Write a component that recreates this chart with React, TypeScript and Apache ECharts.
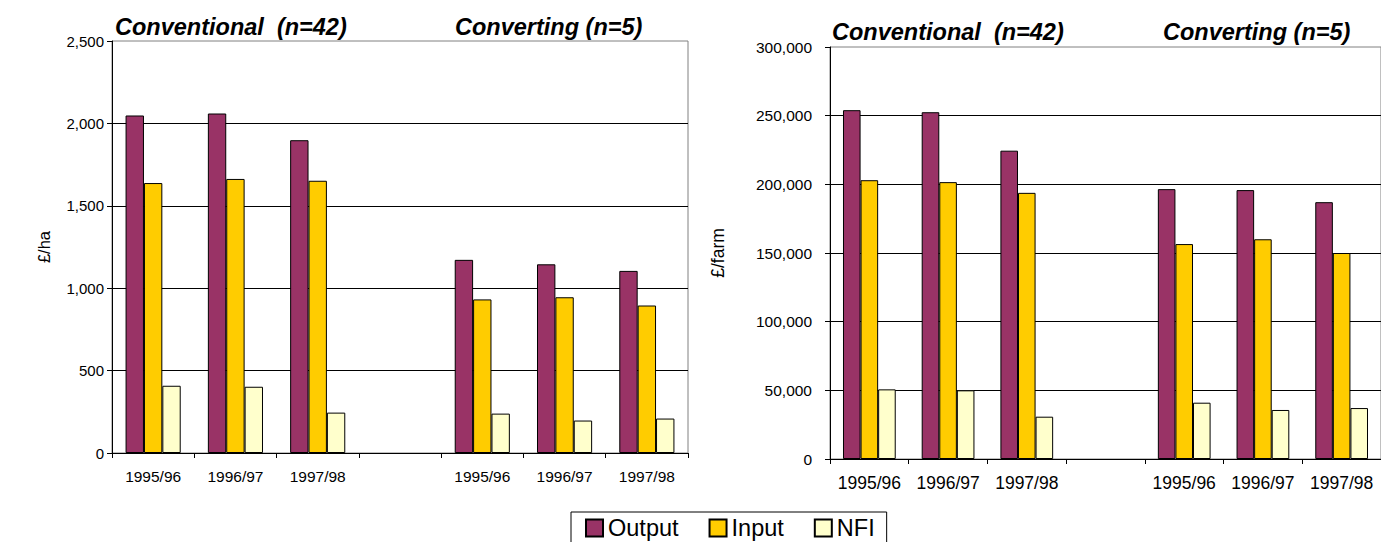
import React, { useEffect, useRef } from "react";
import * as echarts from "echarts";

const categories = ["1995/96", "1996/97", "1997/98", "", "1995/96", "1996/97", "1997/98"];
const seriesNames = ["Output", "Input", "NFI"];

// £/ha (left chart)
const haOutput = [2048, 2060, 1898, null, 1172, 1145, 1105];
const haInput = [1638, 1663, 1652, null, 932, 945, 895];
const haNFI = [408, 402, 245, null, 239, 197, 209];

// £/farm (right chart)
const farmOutput = [254000, 252500, 224500, null, 196500, 195800, 187000];
const farmInput = [203000, 201600, 193800, null, 156500, 160000, 150000];
const farmNFI = [50700, 50000, 30800, null, 41000, 35700, 37100];

const haTicks = { min: 0, max: 2500, interval: 500 };
const farmTicks = { min: 0, max: 300000, interval: 50000 };

const colors = ["#993366", "#FFCC00", "#FFFFCC"];
const groupTitles = ["Conventional  (n=42)", "Converting (n=5)"];

const FONT = "'Liberation Sans', Arial, sans-serif";

export default function App() {
  const ref = useRef<HTMLDivElement>(null);
  useEffect(() => {
    if (!ref.current) return;
    const chart = echarts.init(ref.current, undefined, { renderer: "svg" });
    const fmt = (v: number) => v.toLocaleString("en-US");
    const mkY = (gridIndex: number, t: any, name: string, nameGap: number, nameSize: number, labelSize: number) => ({
      type: "value",
      gridIndex,
      min: t.min,
      max: t.max,
      interval: t.interval,
      name,
      nameLocation: "middle",
      nameGap,
      nameTextStyle: { fontFamily: FONT, fontSize: nameSize, color: "#000" },
      axisLine: { show: true, lineStyle: { color: "#000", width: 1 } },
      axisTick: { show: true, length: 5, lineStyle: { color: "#000" } },
      axisLabel: { fontFamily: FONT, fontSize: labelSize, color: "#000", margin: gridIndex === 0 ? 8 : 18, formatter: fmt },
      splitLine: { show: true, showMaxLine: false, lineStyle: { color: "#000", width: 1 } },
    });
    const mkX = (gridIndex: number, size: number) => ({
      type: "category",
      gridIndex,
      data: categories,
      axisLine: { show: true, lineStyle: { color: "#000", width: 1 } },
      axisTick: { show: true, length: 5, interval: 0, lineStyle: { color: "#000" } },
      axisLabel: { fontFamily: FONT, fontSize: size, color: "#000", margin: 15, interval: 0 },
      splitLine: { show: false },
    });
    const sets = [
      [haOutput, haInput, haNFI],
      [farmOutput, farmInput, farmNFI],
    ];
    const series: any[] = [];
    sets.forEach((arrs, gi) => {
      arrs.forEach((data, si) => {
        series.push({
          type: "bar",
          name: seriesNames[si],
          xAxisIndex: gi,
          yAxisIndex: gi,
          data,
          barGap: "0%",
          barCategoryGap: "33%",
          itemStyle: { color: colors[si], borderColor: "#000", borderWidth: 1 },
        });
      });
    });
    const titleStyle = { fontFamily: FONT, fontSize: 23.5, fontWeight: "bold", fontStyle: "italic", fill: "#000" };
    chart.setOption({
      animation: false,
      backgroundColor: "#fff",
      grid: [
        { left: 112, top: 41, width: 576, height: 412, show: true, borderColor: "#808080", borderWidth: 1, backgroundColor: "transparent" },
        { left: 830, top: 47, width: 556, height: 412, show: true, borderColor: "#808080", borderWidth: 1, backgroundColor: "transparent" },
      ],
      xAxis: [mkX(0, 15.5), mkX(1, 17.5)],
      yAxis: [mkY(0, haTicks, "£/ha", 60, 16.5, 15), mkY(1, farmTicks, "£/farm", 103, 17.5, 15.5)],
      legend: {
        data: seriesNames,
        left: 571,
        top: 512,
        padding: [4, 12, 12, 14],
        itemWidth: 17,
        itemHeight: 17,
        itemGap: 30,
        icon: "rect",
        borderColor: "#000",
        borderWidth: 1,
        backgroundColor: "#fff",
        textStyle: { fontFamily: FONT, fontSize: 23.5, color: "#000" },
      },
      graphic: [
        { type: "text", left: 115, top: 15, style: { text: groupTitles[0], ...titleStyle } },
        { type: "text", left: 455, top: 15, style: { text: groupTitles[1], ...titleStyle } },
        { type: "text", left: 832, top: 20, style: { text: groupTitles[0], ...titleStyle } },
        { type: "text", left: 1163, top: 20, style: { text: groupTitles[1], ...titleStyle } },
      ],
      series,
    });
    return () => chart.dispose();
  }, []);
  return (
    <div style={{ position: "fixed", left: 0, top: 0, width: 1381, height: 542, overflow: "hidden", background: "#fff" }}>
      <div ref={ref} style={{ width: 1381, height: 542 }} />
    </div>
  );
}
